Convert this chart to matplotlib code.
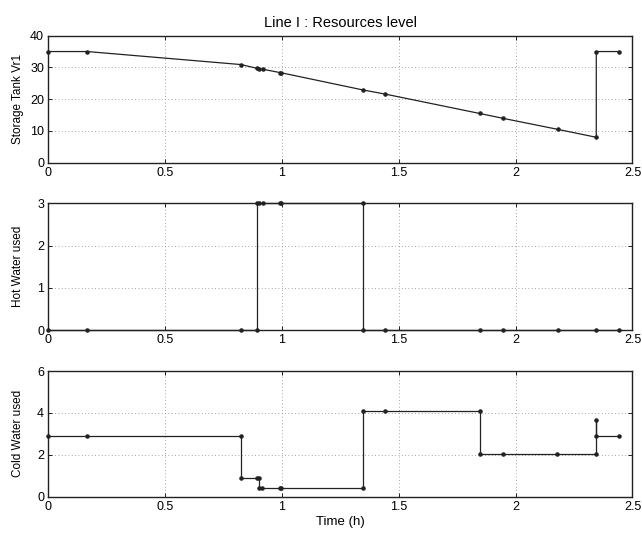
import matplotlib
matplotlib.use('Agg')
import matplotlib.pyplot as plt

plt.rcParams['font.family'] = ['Liberation Sans', 'DejaVu Sans']

# storage tank level
tank_t = [0, 0.167, 0.825, 0.894, 0.903, 0.920, 0.990, 0.998, 1.347, 1.442,
          1.846, 1.944, 2.180, 2.345, 2.345, 2.444]
tank_v = [35, 35, 30.9, 29.7, 29.6, 29.4, 28.4, 28.3, 22.9, 21.6,
          15.5, 14.0, 10.5, 8.0, 35, 35]

# hot water used
hot_t = [0, 0.167, 0.825, 0.894, 0.894, 0.903, 0.920, 0.990, 0.998, 1.347,
         1.347, 1.442, 1.846, 1.944, 2.180, 2.345, 2.444]
hot_v = [0, 0, 0, 0, 3, 3, 3, 3, 3, 3,
         0, 0, 0, 0, 0, 0, 0]

# cold water used
cold_t = [0, 0.165, 0.824, 0.824, 0.894, 0.903, 0.903, 0.916, 0.990, 0.998,
          1.347, 1.347, 1.442, 1.846, 1.846, 1.944, 2.179, 2.345, 2.345, 2.345, 2.444]
cold_v = [2.9, 2.9, 2.9, 0.9, 0.9, 0.9, 0.4, 0.4, 0.4, 0.4,
          0.4, 4.1, 4.1, 4.1, 2.05, 2.05, 2.05, 2.05, 3.65, 2.9, 2.9]

panels = [
    (tank_t, tank_v, 'Storage Tank Vr1', (0, 40), [0, 10, 20, 30, 40]),
    (hot_t, hot_v, 'Hot Water used', (0, 3), [0, 1, 2, 3]),
    (cold_t, cold_v, 'Cold Water used', (0, 6), [0, 2, 4, 6]),
]
positions = [
    [0.0752, 0.6976, 0.910, 0.2361],
    [0.0752, 0.3866, 0.910, 0.2355],
    [0.0752, 0.0768, 0.910, 0.2336],
]
xticks = [0, 0.5, 1, 1.5, 2, 2.5]
xticklabels = ['0', '0.5', '1', '1.5', '2', '2.5']

fig = plt.figure(figsize=(6.42, 5.38), dpi=100)
axes = []
for (t, v, lab, ylim, yt), pos in zip(panels, positions):
    ax = fig.add_axes(pos)
    ax.plot(t, v, color='#222222', lw=0.9, marker='.', markersize=4.5, clip_on=False, zorder=3)
    ax.set_xlim(0, 2.5)
    ax.set_ylim(*ylim)
    ax.set_xticks(xticks)
    ax.set_xticklabels(xticklabels)
    ax.set_yticks(yt)
    ax.set_ylabel(lab, fontsize=8.5)
    ax.yaxis.set_label_coords(-0.041, 0.5)
    ax.grid(True, linestyle=(0, (1, 3)), color='#888888', lw=0.6)
    ax.tick_params(direction='in', top=True, right=True, labelsize=9, length=3,
                   width=0.6, pad=3)
    for s in ax.spines.values():
        s.set_linewidth(1.0)
        s.set_color('#222222')
    axes.append(ax)

axes[0].set_title('Line I : Resources level', fontsize=10.5, pad=6)
axes[2].set_xlabel('Time (h)', fontsize=9.5, labelpad=2)

fig.savefig('out.png', dpi=100)
